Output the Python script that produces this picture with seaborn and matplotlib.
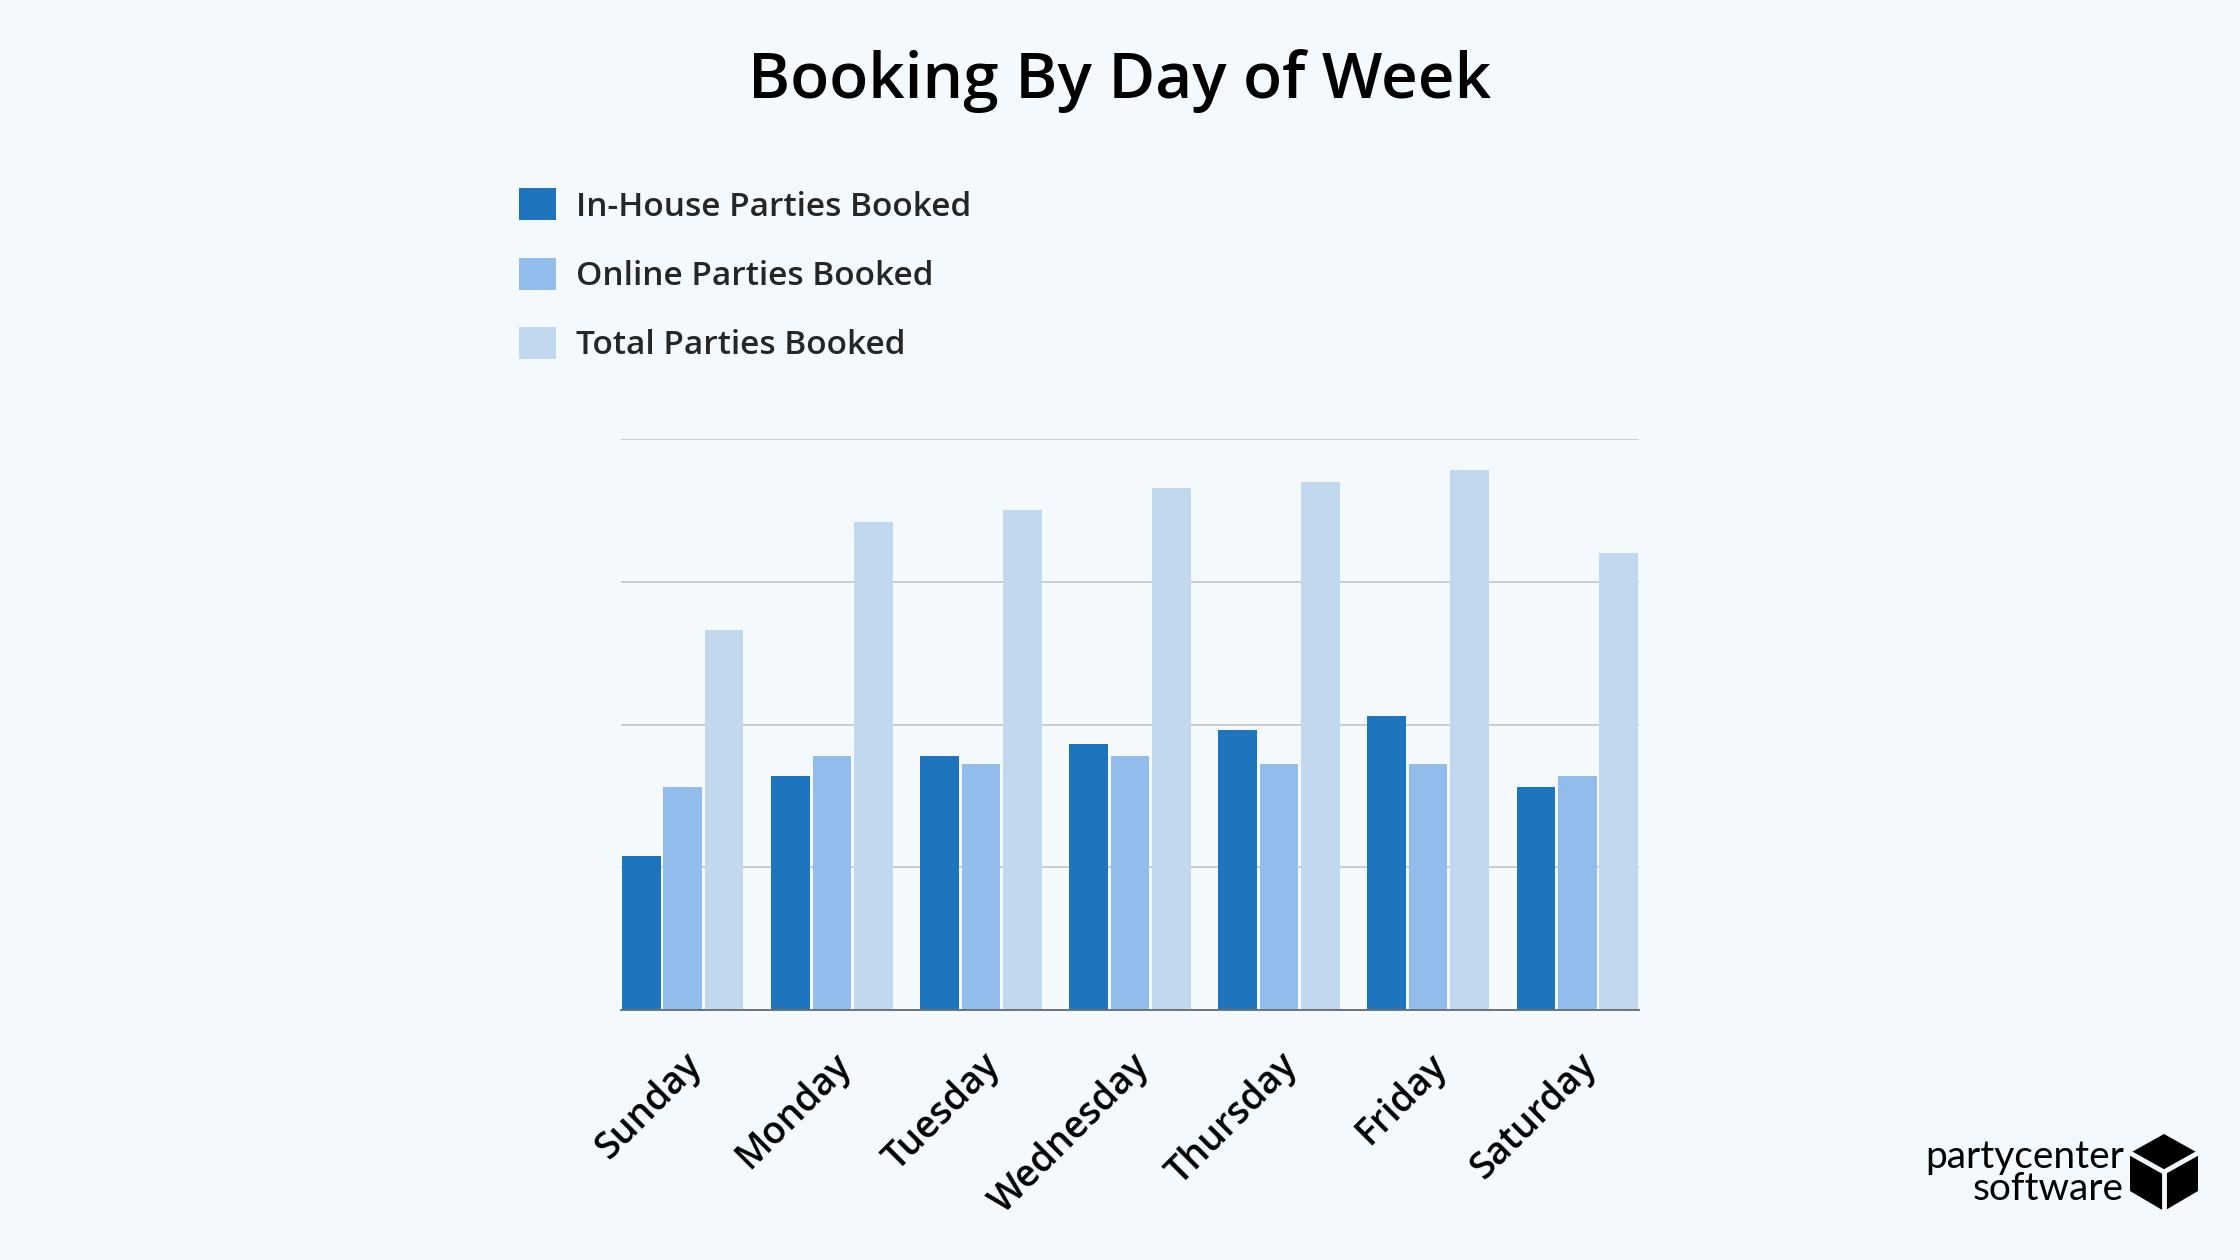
import matplotlib
matplotlib.use("Agg")
import matplotlib.pyplot as plt
from matplotlib.patches import Polygon
import pandas as pd
import seaborn as sns

# Values (grid step = 5)
days = ["Sunday", "Monday", "Tuesday", "Wednesday", "Thursday", "Friday", "Saturday"]
in_house = [5.4, 8.2, 8.9, 9.3, 9.8, 10.3, 7.8]
online = [7.8, 8.9, 8.6, 8.9, 8.6, 8.6, 8.2]
total = [13.3, 17.1, 17.5, 18.3, 18.5, 18.9, 16.0]
series_names = ["In-House Parties Booked", "Online Parties Booked", "Total Parties Booked"]
colors = ["#1F75BD", "#91BCEB", "#C2D8EF"]

bg = "#F4F9FD"

rows = []
for name, vals in zip(series_names, [in_house, online, total]):
    for d, v in zip(days, vals):
        rows.append({"day": d, "value": v, "series": name})
df = pd.DataFrame(rows)

sns.set_theme(style="white")
plt.rcParams["font.family"] = ["Open Sans", "DejaVu Sans"]

fig = plt.figure(figsize=(22.4, 12.6), dpi=100, facecolor=bg)
ax = fig.add_axes([621 / 2240, 1 - 1010 / 1260, (1639 - 621) / 2240, (1010 - 439) / 1260])
ax.set_facecolor(bg)

width = 0.83
sns.barplot(data=df, x="day", y="value", hue="series", palette=colors,
            width=width, gap=0.06, linewidth=0, saturation=1, ax=ax, errorbar=None)

ax.set_xlim(-width / 2, len(days) - 1 + width / 2)
ax.set_ylim(0, 20)
ax.set_yticks([0, 5, 10, 15, 20])
ax.set_yticklabels([])
ax.yaxis.grid(True, color="#C9CDD2", linewidth=1.4)
ax.set_axisbelow(True)
for s in ["left", "right", "top"]:
    ax.spines[s].set_visible(False)
ax.spines["bottom"].set_color("#6E7378")
ax.spines["bottom"].set_linewidth(1.4)
ax.tick_params(axis="x", length=0, pad=26)
ax.tick_params(axis="y", length=0)
ax.set_xlabel("")
ax.set_ylabel("")
for lbl in ax.get_xticklabels():
    lbl.set_rotation(45)
    lbl.set_ha("right")
    lbl.set_rotation_mode("anchor")
    lbl.set_fontsize(27)
    lbl.set_fontweight("semibold")
    lbl.set_color("black")

# legend
handles, labels = ax.get_legend_handles_labels()
ax.legend_.remove()
fig.legend(handles, labels, loc="upper left",
           bbox_to_anchor=(506 / 2240, 1 - 175 / 1260),
           frameon=False, handlelength=1.1, handleheight=1.1,
           handletextpad=0.6, labelspacing=1.02, borderaxespad=0,
           prop={"family": ["Open Sans", "DejaVu Sans"], "size": 24, "weight": "semibold"})

# title
fig.text(0.5, 1 - 81 / 1260, "Booking By Day of Week", ha="center", va="center",
         fontsize=46, fontweight="semibold", color="black")

# logo
fig.text(2124 / 2240, 1 - 1173 / 1260, "partycenter\nsoftware", ha="right", va="center",
         multialignment="right", linespacing=0.85,
         fontsize=28, color="black", family=["Lato", "DejaVu Sans"])


def px(x, y):
    return (x / 2240, 1 - y / 1260)


hexv = [px(2164, 1134), px(2198, 1153), px(2198, 1191), px(2164, 1211), px(2130, 1191), px(2130, 1153)]
fig.add_artist(Polygon(hexv, closed=True, facecolor="black", edgecolor="none",
                       transform=fig.transFigure))
cx, cy = px(2164, 1172)
for ex, ey in [px(2130, 1153), px(2198, 1153), px(2164, 1211)]:
    fig.add_artist(plt.Line2D([cx, ex], [cy, ey], color=bg, linewidth=3.5,
                              transform=fig.transFigure))

fig.savefig("out.png", dpi=100, facecolor=bg)
